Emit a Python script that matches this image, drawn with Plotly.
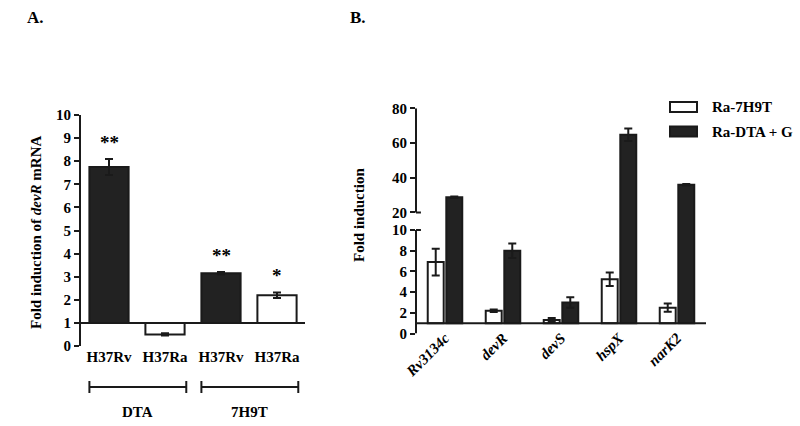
import plotly.graph_objects as go

# ---- panel A data ----
strains = ["H37Rv", "H37Ra", "H37Rv", "H37Ra"]
media = ["DTA", "DTA", "7H9T", "7H9T"]
fold_a = [7.75, 0.5, 3.15, 2.2]
err_a = [0.35, 0.05, 0.05, 0.12]
fill_a = ["#222222", "#ffffff", "#222222", "#ffffff"]
stars = ["**", "", "**", "*"]
groups = ["DTA", "7H9T"]

# ---- panel B data ----
genes = ["Rv3134c", "devR", "devS", "hspX", "narK2"]
series = ["Ra-7H9T", "Ra-DTA + G"]
fold_7h9t = [6.9, 2.2, 1.3, 5.25, 2.5]
err_7h9t = [1.3, 0.12, 0.2, 0.65, 0.4]
fold_dta = [28.8, 8.0, 3.0, 64.8, 36.0]
err_dta = [0.4, 0.7, 0.5, 3.6, 0.4]
series_fill = ["#ffffff", "#222222"]

baseline = 1
lower_ticks = [0, 2, 4, 6, 8, 10]
upper_ticks = [20, 40, 60, 80]

W, H = 800, 426
FONT = "Liberation Serif"
INK = "#1a1a1a"


def px(v):
    return v / W


def py(v):
    return 1 - v / H


fig = go.Figure()

xa = list(range(len(strains)))
fig.add_trace(go.Bar(
    x=xa, y=[v - baseline for v in fold_a], base=baseline,
    marker=dict(color=fill_a, line=dict(color=INK, width=2)),
    error_y=dict(type="data", array=err_a, color=INK, thickness=2, width=4),
    width=0.7, xaxis="x", yaxis="y", showlegend=False))

xb = list(range(len(genes)))
for ax in ["y2", "y3"]:
    for name, vals, errs, col in zip(series, [fold_7h9t, fold_dta],
                                     [err_7h9t, err_dta], series_fill):
        fig.add_trace(go.Bar(
            x=xb, y=[v - baseline for v in vals], base=baseline, name=name,
            marker=dict(color=col, line=dict(color=INK, width=2)),
            error_y=dict(type="data", array=errs, color=INK, thickness=2, width=4),
            xaxis="x2", yaxis=ax, showlegend=False))

tickfont = dict(family=FONT, size=15, color="black", weight="bold")
axis_common = dict(showgrid=False, zeroline=False, automargin=False)

fig.update_layout(
    width=W, height=H, template="none",
    margin=dict(l=0, r=0, t=0, b=0),
    paper_bgcolor="white", plot_bgcolor="rgba(0,0,0,0)",
    font=dict(family=FONT, size=15, color="black", weight="bold"),
    barmode="group", bargap=0.36, bargroupgap=0.14,
    xaxis=dict(domain=[px(81), px(305)], range=[-0.5, 3.5], anchor="y",
               tickvals=xa, ticktext=strains, ticks="", showline=False,
               tickfont=tickfont, **axis_common),
    yaxis=dict(domain=[py(346), py(115)], range=[0, 10], dtick=1, anchor="x",
               showline=True, linecolor=INK, linewidth=2, ticks="outside",
               ticklen=5, tickwidth=2, tickcolor=INK, tickfont=tickfont,
               **axis_common),
    xaxis2=dict(domain=[px(416), px(706)], range=[-0.5, 4.5], anchor="y2",
                tickvals=xb, ticktext=genes, ticks="", showline=False,
                tickangle=-45, ticklabelstandoff=-8,
                tickfont=dict(family=FONT, size=15, color="black",
                              weight="bold", style="italic"),
                **axis_common),
    yaxis2=dict(domain=[py(333.5), py(221)], range=[0, 10.87], anchor="x2",
                tickvals=lower_ticks, showline=False, ticks="outside",
                ticklen=5, tickwidth=2, tickcolor=INK, tickfont=tickfont,
                **axis_common),
    yaxis3=dict(domain=[py(221), py(108.3)], range=[15.1, 80], anchor="x2",
                tickvals=upper_ticks, showline=False, ticks="outside",
                ticklen=5, tickwidth=2, tickcolor=INK, tickfont=tickfont,
                **axis_common),
)

line = dict(color=INK, width=2)
shapes = [
    # baselines at fold = 1
    dict(type="line", xref="x domain", yref="y", x0=0, x1=1,
         y0=baseline, y1=baseline, line=line),
    dict(type="line", xref="x2 domain", yref="y2", x0=0, x1=1,
         y0=baseline, y1=baseline, line=line),
    # broken axis segments
    dict(type="line", xref="x2 domain", yref="y2", x0=0, x1=0,
         y0=lower_ticks[0], y1=lower_ticks[-1], line=line),
    dict(type="line", xref="x2 domain", yref="y3", x0=0, x1=0,
         y0=upper_ticks[0], y1=upper_ticks[-1], line=line),
    dict(type="line", xref="x2 domain", yref="y2", x0=0, x1=0.017,
         y0=lower_ticks[-1], y1=lower_ticks[-1], line=line),
    dict(type="line", xref="x2 domain", yref="y3", x0=0, x1=0.017,
         y0=upper_ticks[0], y1=upper_ticks[0], line=line),
]

annotations = []
# significance stars
for x, v, e, s in zip(xa, fold_a, err_a, stars):
    if s:
        annotations.append(dict(x=x, y=v + e, xref="x", yref="y", text=s,
                                showarrow=False, yanchor="bottom", yshift=4,
                                font=dict(size=19)))

# medium brackets under panel A
yb = py(387)
for g in groups:
    idx = [i for i, m in enumerate(media) if m == g]
    x0, x1 = idx[0] - 0.35, idx[-1] + 0.38
    shapes.append(dict(type="line", xref="x", yref="paper", x0=x0, x1=x1,
                       y0=yb, y1=yb, line=line))
    for xe in (x0, x1):
        shapes.append(dict(type="line", xref="x", yref="paper", x0=xe, x1=xe,
                           y0=py(381), y1=py(393), line=line))
    annotations.append(dict(x=(x0 + x1) / 2, y=py(412), xref="x", yref="paper",
                            text=g, showarrow=False, yanchor="middle"))

# axis titles and panel letters
annotations += [
    dict(x=px(26), y=py(232), xref="paper", yref="paper", textangle=-90,
         text="Fold induction of <i>devR</i> mRNA", showarrow=False),
    dict(x=px(359), y=py(215), xref="paper", yref="paper", textangle=-90,
         text="Fold induction", showarrow=False),
    dict(x=px(25), y=py(17), xref="paper", yref="paper", text="A.",
         showarrow=False, yanchor="middle", font=dict(size=17)),
    dict(x=px(358), y=py(17), xref="paper", yref="paper", text="B.",
         showarrow=False, yanchor="middle", font=dict(size=17)),
]

# legend for panel B
for i, (name, col) in enumerate(zip(series, series_fill)):
    yc = 107 + i * 24.5
    shapes.append(dict(type="rect", xref="paper", yref="paper",
                       x0=px(670), x1=px(697), y0=py(yc + 5), y1=py(yc - 5),
                       fillcolor=col, line=line))
    annotations.append(dict(x=px(710), y=py(yc), xref="paper", yref="paper",
                            text=name, showarrow=False, xanchor="left",
                            yanchor="middle"))

fig.update_layout(shapes=shapes, annotations=annotations)

fig.write_html("out.html", config={"displayModeBar": False},
               post_script="document.body.style.margin='0px';")
